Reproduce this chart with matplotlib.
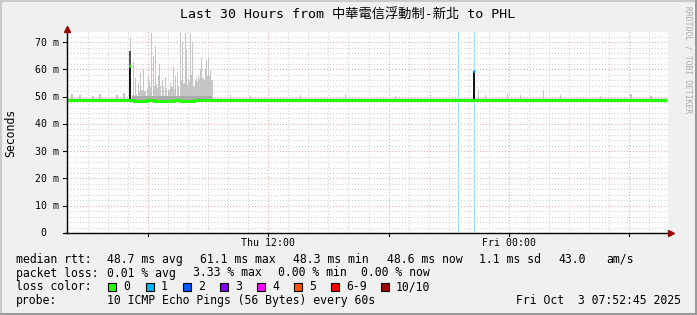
import numpy as np
import matplotlib
matplotlib.use('Agg')
import matplotlib.pyplot as plt
from matplotlib.patches import Rectangle
from matplotlib import transforms

W, H = 697, 315
MONO = 'DejaVu Sans Mono'

# time axis: hours since Thu 00:00
t_start, t_end = 1.95, 31.95
data_end = 31.88

# median rtt (ms), one value per 20 minutes
median_ms = [
    48.6, 48.7, 48.6, 48.6, 48.7, 48.6, 48.6, 48.7, 48.6, 48.6,
    48.5, 48.5, 48.6, 48.5, 48.5, 48.5, 48.6, 48.5, 48.5, 48.6,
    48.6, 48.7, 48.6, 48.6, 48.7, 48.6, 48.6, 48.7, 48.6, 48.6,
    48.7, 48.6, 48.6, 48.7, 48.6, 48.6, 48.6, 48.7, 48.6, 48.6,
    48.6, 48.6, 48.7, 48.6, 48.6, 48.6, 48.7, 48.6, 48.6, 48.7,
    48.6, 48.6, 48.6, 48.7, 48.6, 48.6, 48.7, 48.6, 48.6, 48.6,
    48.7, 48.6, 48.6, 48.6, 48.6, 48.7, 48.6, 48.6, 48.6, 48.6,
    48.6, 48.7, 48.6, 48.6, 48.6, 48.6, 48.7, 48.6, 48.6, 48.6,
    48.6, 48.6, 48.7, 48.6, 48.6, 48.6, 48.6, 48.7, 48.6, 48.6,
]

# short median excursions (hour, ms, loss colour index)
spike_hours = [5.10, 22.27]
spike_ms = [61.1, 59.3]
spike_loss = [0, 1]

# smoke: single ping spikes (top in ms)
smoke_hours = [
    2.20, 2.60, 3.25, 3.60, 4.45, 4.80,
    5.10, 5.27, 5.35, 5.50, 5.62, 5.77, 6.02, 6.05, 6.18, 6.27, 6.35, 6.43,
    6.52, 6.57, 6.70, 6.77, 6.88, 7.02, 7.12, 7.27, 7.38, 7.48, 7.60, 7.68,
    7.73, 7.85, 7.93, 8.02, 8.10, 8.15, 8.23, 8.35, 8.43, 8.53, 8.62, 8.68,
    8.77, 8.85, 8.93, 9.02, 9.08, 9.13,
    10.1, 11.1, 13.6, 15.85, 18.35, 20.1, 22.5, 22.85, 23.95, 24.6, 25.75,
    26.6, 28.6, 30.1, 31.1,
]
smoke_top = [
    51.0, 50.5, 50.3, 50.8, 50.5, 51.5,
    72.0, 62.7, 57.0, 55.0, 58.5, 60.0, 57.3, 55.5, 73.4, 65.0, 68.5, 54.8,
    58.0, 62.1, 56.0, 53.6, 57.3, 52.6, 55.0, 61.0, 57.5, 59.0, 73.4, 56.0,
    70.0, 73.4, 67.0, 56.5, 73.0, 58.0, 69.5, 56.0, 57.0, 57.5, 60.0, 64.0,
    56.0, 59.7, 63.5, 64.5, 57.0, 59.7,
    50.5, 50.2, 50.6, 51.0, 50.3, 50.5, 52.4, 50.7, 51.0, 50.5, 52.6,
    50.6, 50.4, 50.8, 50.3,
]

# smoke: dense body during the unstable period
body_hours = [
    5.25, 5.40, 5.55, 5.70, 5.85, 6.00, 6.15, 6.30, 6.45, 6.60, 6.75, 6.90,
    7.05, 7.20, 7.35, 7.50, 7.65, 7.80, 7.95, 8.10, 8.25, 8.40, 8.55, 8.70,
    8.85, 9.00, 9.15,
]
body_top = [
    50.5, 51.0, 52.0, 52.4, 52.0, 52.8, 53.6, 54.0, 53.2, 53.8, 52.6, 53.0,
    52.4, 53.5, 52.8, 53.8, 54.6, 55.0, 54.2, 55.4, 54.0, 55.5, 56.4, 57.0,
    56.2, 57.4, 56.0,
]

# dark (all pings) bars
dark_hours = [5.10, 22.25]
dark_bottom = [48.5, 49.0]
dark_top = [61.0, 59.5]
shade_top = [66.8, 59.5]

# intervals with packet loss
loss_hours = [21.46, 22.27]

loss_colors = ['#26ff00', '#00b8ff', '#0059ff', '#7e00ff', '#ff00ff',
               '#ff5500', '#ff0000', '#a10000']
loss_labels = ['0', '1', '2', '3', '4', '5', '6-9', '10/10']

y_major = [0, 10, 20, 30, 40, 50, 60, 70]
y_labels = ['0  ', '10 m', '20 m', '30 m', '40 m', '50 m', '60 m', '70 m']
x_major = [12, 24]
x_labels = ['Thu 12:00', 'Fri 00:00']

rtt_items = ['48.7 ms avg', '61.1 ms max', '48.3 ms min', '48.6 ms now',
             '1.1 ms sd', '43.0', 'am/s']
loss_items = ['0.01 % avg', '3.33 % max', '0.00 % min', '0.00 % now']


def fx(px):
    return px / W


def fy(py):
    return 1 - py / H


fig = plt.figure(figsize=(W / 100, H / 100), dpi=100, facecolor='#f0f0f0')

# 3d-ish frame
fig.add_artist(Rectangle((0, 0), 1, 1, transform=fig.transFigure,
                         facecolor='none', edgecolor='#cbcbcb', lw=2.2))
fig.add_artist(Rectangle((fx(0), fy(315)), fx(697), 2.5 / H, transform=fig.transFigure,
                         facecolor='#999999', edgecolor='none'))
fig.add_artist(Rectangle((fx(694.5), 0), 2.5 / W, 1, transform=fig.transFigure,
                         facecolor='#999999', edgecolor='none'))

ax = fig.add_axes([fx(67), fy(233), 601 / W, 201 / H])
ax.set_facecolor('white')
ax.set_xlim(t_start, t_end)
ax.set_ylim(0, 73.7)
for s in ax.spines.values():
    s.set_visible(False)
ax.set_xticks([])
ax.set_yticks([])

# grid
dot = (0, (1, 2))
for h in range(3, 32):
    major = h % 6 == 0
    ax.axvline(h, color='#eaa0a0' if major else '#cfcfcf', lw=0.75, ls=dot, zorder=0)
for v in range(2, 74, 2):
    major = v % 10 == 0
    ax.axhline(v, color='#eaa0a0' if major else '#cfcfcf', lw=0.75, ls=dot, zorder=0)

# loss markers
for h in loss_hours:
    ax.axvline(h, color='#a6dcf5', lw=0.9, zorder=1)

# smoke
ax.fill_between([t_start, data_end], 48.0, 49.5, color='#dcdcdc', lw=0, zorder=2)
ax.bar(body_hours, np.array(body_top) - 48.2, bottom=48.2, width=0.13,
       color='#c8c8c8', lw=0, zorder=2)
ax.bar(smoke_hours, np.array(smoke_top) - 48.2, bottom=48.2, width=0.06,
       color='#c4c4c4', lw=0, zorder=2)
ax.fill_between([5.2, 9.2], 48.2, 50.3, color='#acacac', lw=0, zorder=2)
ax.bar(dark_hours, np.array(shade_top) - np.array(dark_bottom), bottom=dark_bottom,
       width=0.09, color='#555555', lw=0, zorder=3)
ax.bar(dark_hours, np.array(dark_top) - np.array(dark_bottom), bottom=dark_bottom,
       width=0.09, color='#151515', lw=0, zorder=3)

# median
edges = np.linspace(t_start, data_end, len(median_ms) + 1)
ax.stairs(median_ms, edges, baseline=None, color=loss_colors[0], lw=2.2, zorder=4)
for h, v, c in zip(spike_hours, spike_ms, spike_loss):
    ax.plot([h - 0.04, h + 0.04], [v, v], color=loss_colors[c], lw=2.2,
            solid_capstyle='butt', zorder=4)

# axes lines + arrows
ax.plot([-0.003, 1.004], [0, 0], transform=ax.transAxes, color='#000000', lw=1,
        clip_on=False, zorder=5)
ax.plot([0, 0], [0, 1.012], transform=ax.transAxes, color='#000000', lw=1,
        clip_on=False, zorder=5)
ax.plot([1.0055], [0], marker='>', ms=4.5, color='#990000', transform=ax.transAxes,
        clip_on=False, zorder=6)
ax.plot([0], [1.016], marker='^', ms=4.5, color='#990000', transform=ax.transAxes,
        clip_on=False, zorder=6)

ytrans = transforms.blended_transform_factory(ax.transAxes, ax.transData)
xtrans = transforms.blended_transform_factory(ax.transData, ax.transAxes)
for v, lab in zip(y_major, y_labels):
    ax.plot([-0.007, 0], [v, v], transform=ytrans, color='#000000', lw=0.8, clip_on=False)
    ax.text(-8 / 601, v, lab, transform=transforms.offset_copy(ytrans, fig=fig, y=-3.5, units='dots'),
            ha='right', va='baseline', fontsize=7.1, family=MONO)
for h in range(6, 32, 6):
    ax.plot([h, h], [0, -3 / 201], transform=xtrans, color='#000000', lw=0.8, clip_on=False)
for h, lab in zip(x_major, x_labels):
    ax.text(h, -13 / 201, lab, transform=xtrans, ha='center', va='baseline',
            fontsize=7.1, family=MONO)

# titles and labels
fig.text(fx(348), fy(19), 'Last 30 Hours from 中華電信浮動制-新北 to PHL', ha='center',
         va='baseline', fontsize=9.5, family=[MONO, 'Noto Sans CJK TC'])
fig.text(fx(11), fy(133), 'Seconds', rotation=90, ha='center', va='center',
         fontsize=8.3, family=MONO)
fig.text(fx(688), fy(60), 'RRDTOOL / TOBI OETIKER', rotation=270, ha='center',
         va='center', fontsize=5.8, family=MONO, color='#acacac')

# legend
lx = [107.3, 200, 292.7, 386.7, 479.3, 558.3, 606.7]
fig.text(fx(16), fy(262.7), 'median rtt:', fontsize=8.3, family=MONO, va='baseline')
for x, s in zip(lx, rtt_items):
    fig.text(fx(x), fy(262.7), s, fontsize=8.3, family=MONO, va='baseline')

px = [107.3, 192.7, 278.3, 360.7]
fig.text(fx(16), fy(276.5), 'packet loss:', fontsize=8.3, family=MONO, va='baseline')
for x, s in zip(px, loss_items):
    fig.text(fx(x), fy(276.5), s, fontsize=8.3, family=MONO, va='baseline')

sq_x = [108.3, 145.7, 182.7, 220, 257, 294, 331, 381]
fig.text(fx(16), fy(290.3), 'loss color:', fontsize=8.3, family=MONO, va='baseline')
for x0, c, lab in zip(sq_x, loss_colors, loss_labels):
    fig.add_artist(Rectangle((fx(x0), fy(290.5)), 8 / W, 8 / H, transform=fig.transFigure,
                             facecolor=c, edgecolor='#000000', lw=0.8))
    fig.text(fx(x0 + 15), fy(290.3), lab, fontsize=8.3, family=MONO, va='baseline')

fig.text(fx(16), fy(304.2), 'probe:', fontsize=8.3, family=MONO, va='baseline')
fig.text(fx(107.3), fy(304.2), '10 ICMP Echo Pings (56 Bytes) every 60s', fontsize=8.3,
         family=MONO, va='baseline')
fig.text(fx(680.5), fy(304.2), 'Fri Oct  3 07:52:45 2025', fontsize=8.3, family=MONO,
         va='baseline', ha='right')

fig.savefig('out.png', dpi=100, facecolor=fig.get_facecolor())
